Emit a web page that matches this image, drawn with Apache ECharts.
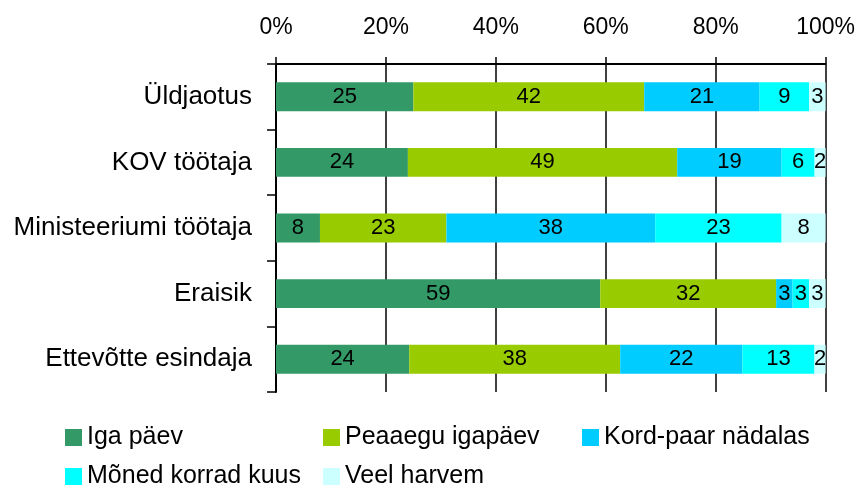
<!DOCTYPE html>
<html>
<head>
<meta charset="utf-8">
<script src="https://cdn.jsdelivr.net/npm/echarts@6/dist/echarts.min.js"></script>
<style>
html,body{margin:0;padding:0;background:#fff;}
#chart{width:858px;height:490px;}
</style>
</head>
<body>
<div id="chart"></div>
<script>
const categories = ['Üldjaotus', 'KOV töötaja', 'Ministeeriumi töötaja', 'Eraisik', 'Ettevõtte esindaja'];
const seriesNames = ['Iga päev', 'Peaaegu igapäev', 'Kord-paar nädalas', 'Mõned korrad kuus', 'Veel harvem'];
const igaPaev = [25, 24, 8, 59, 24];
const peaaeguIgapaev = [42, 49, 23, 32, 38];
const kordPaarNadalas = [21, 19, 38, 3, 22];
const monedKorradKuus = [9, 6, 23, 3, 13];
const veelHarvem = [3, 2, 8, 3, 2];
const xTickLabels = ['0%', '20%', '40%', '60%', '80%', '100%'];
const colors = ['#339966', '#99CC00', '#00CCFF', '#00FFFF', '#CCFFFF'];

const seriesValues = [igaPaev, peaaeguIgapaev, kordPaarNadalas, monedKorradKuus, veelHarvem];
const totals = categories.map((c, i) => seriesValues.reduce((s, arr) => s + arr[i], 0));
const FONT = '"Liberation Sans", Arial, sans-serif';

const series = seriesValues.map((vals, si) => ({
  name: seriesNames[si],
  type: 'bar',
  stack: 'total',
  barWidth: '44%',
  itemStyle: { color: colors[si] },
  label: {
    show: true,
    position: 'inside',
    color: '#000',
    fontFamily: FONT,
    fontSize: 22,
    formatter: p => String(vals[p.dataIndex])
  },
  labelLayout: { hideOverlap: false },
  data: vals.map((v, i) => v / totals[i] * 100)
}));

const legendPos = [[65, 425], [323, 425], [582, 425], [65, 464], [323, 464]];
const legends = seriesNames.map((n, i) => ({
  data: [n],
  left: legendPos[i][0],
  top: legendPos[i][1],
  orient: 'horizontal',
  icon: 'rect',
  itemWidth: 17,
  itemHeight: 17,
  itemGap: 0,
  padding: 0,
  selectedMode: false,
  textStyle: { fontFamily: FONT, fontSize: 25, color: '#000', padding: [0, 0, 0, 0] }
}));

const chart = echarts.init(document.getElementById('chart'), null, { renderer: 'canvas' });
chart.setOption({
  animation: false,
  backgroundColor: '#fff',
  color: colors,
  grid: { left: 276, right: 32, top: 64, bottom: 98, containLabel: false },
  legend: legends,
  xAxis: {
    type: 'value',
    position: 'top',
    min: 0,
    max: 100,
    interval: 20,
    axisLine: { show: true, lineStyle: { color: '#000', width: 2 } },
    axisTick: { show: true, inside: false, length: 7, lineStyle: { color: '#000', width: 1.5 } },
    splitLine: { show: true, lineStyle: { color: '#000', width: 1.5 } },
    axisLabel: {
      margin: 25,
      color: '#000',
      fontFamily: FONT,
      fontSize: 23,
      formatter: v => xTickLabels[Math.round(v / 20)]
    }
  },
  yAxis: {
    type: 'category',
    inverse: true,
    data: categories,
    axisLine: { show: true, lineStyle: { color: '#000', width: 2 } },
    axisTick: { show: true, length: 9, alignWithLabel: false, lineStyle: { color: '#000', width: 1.5 } },
    axisLabel: { margin: 24, color: '#000', fontFamily: FONT, fontSize: 26 },
    splitLine: { show: false }
  },
  series: series
});
</script>
</body>
</html>
